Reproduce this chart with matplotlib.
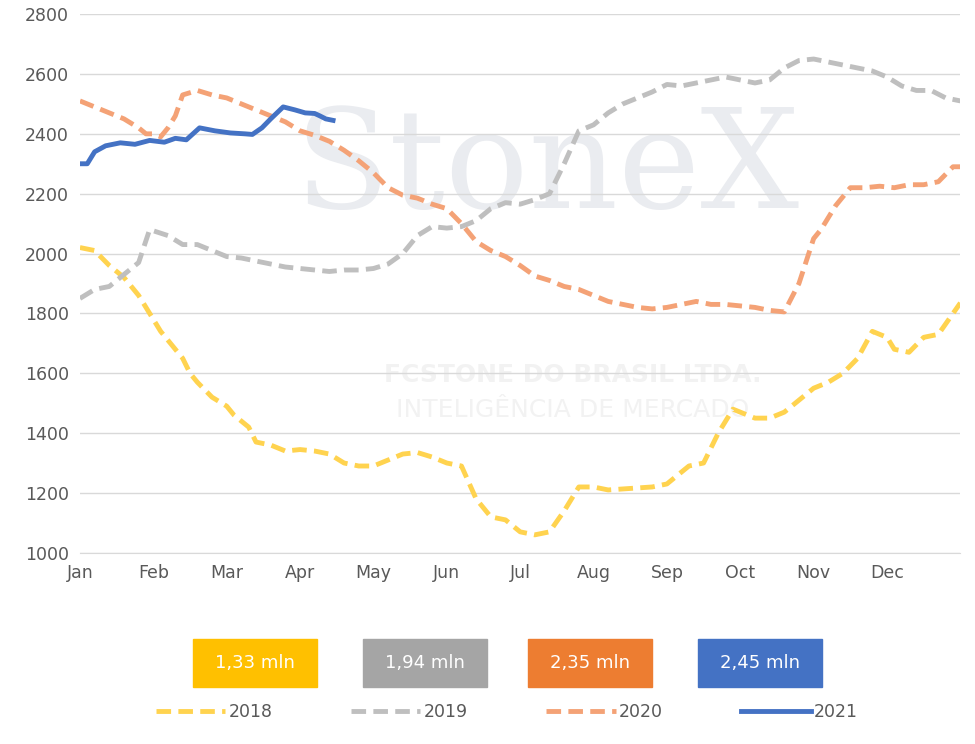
import matplotlib
matplotlib.use("Agg")
import matplotlib.pyplot as plt
from matplotlib.lines import Line2D

months = ["Jan","Feb","Mar","Apr","May","Jun","Jul","Aug","Sep","Oct","Nov","Dec"]

x2018 = [0,0.2,0.4,0.6,0.8,1.0,1.1,1.3,1.4,1.5,1.6,1.8,2.0,2.1,2.3,2.4,2.6,2.8,3.0,3.2,3.4,3.6,3.8,4.0,4.2,4.4,4.6,4.8,5.0,5.2,5.4,5.6,5.8,6.0,6.2,6.4,6.6,6.8,7.0,7.2,7.5,7.8,8.0,8.1,8.3,8.5,8.7,8.9,9.0,9.2,9.4,9.6,9.8,10.0,10.2,10.4,10.6,10.8,11.0,11.1,11.3,11.5,11.7,11.9,12.0]
y2018 = [2020,2010,1960,1920,1860,1780,1740,1680,1650,1600,1570,1520,1490,1460,1420,1370,1360,1340,1345,1340,1330,1300,1290,1290,1310,1330,1335,1320,1300,1290,1180,1120,1110,1070,1060,1070,1140,1220,1220,1210,1215,1220,1230,1250,1290,1300,1400,1480,1470,1450,1450,1470,1510,1550,1570,1600,1650,1740,1720,1680,1670,1720,1730,1800,1835]

x2019 = [0,0.2,0.4,0.6,0.8,0.95,1.2,1.4,1.6,1.8,2.0,2.2,2.4,2.6,2.8,3.0,3.2,3.4,3.6,3.8,4.0,4.2,4.4,4.6,4.8,5.0,5.2,5.4,5.6,5.8,6.0,6.2,6.4,6.6,6.8,7.0,7.2,7.4,7.6,7.8,8.0,8.2,8.4,8.6,8.8,9.0,9.2,9.4,9.6,9.8,10.0,10.2,10.4,10.6,10.8,11.0,11.2,11.4,11.6,11.8,12.0]
y2019 = [1850,1880,1890,1930,1970,2080,2060,2030,2030,2010,1990,1985,1975,1965,1955,1950,1945,1940,1945,1945,1950,1965,2000,2060,2090,2085,2090,2110,2150,2170,2165,2180,2200,2300,2410,2430,2470,2500,2520,2540,2565,2560,2570,2580,2590,2580,2570,2580,2620,2645,2650,2640,2630,2620,2610,2590,2560,2545,2545,2520,2510]

x2020 = [0,0.2,0.4,0.6,0.8,0.9,1.0,1.1,1.2,1.3,1.4,1.6,1.8,2.0,2.2,2.4,2.6,2.8,3.0,3.2,3.4,3.6,3.8,4.0,4.2,4.4,4.6,4.8,5.0,5.2,5.4,5.6,5.8,6.0,6.2,6.4,6.6,6.8,7.0,7.2,7.4,7.6,7.8,8.0,8.2,8.4,8.6,8.8,9.0,9.2,9.4,9.6,9.8,10.0,10.1,10.3,10.5,10.7,10.9,11.1,11.3,11.5,11.7,11.9,12.0]
y2020 = [2510,2490,2470,2450,2420,2400,2400,2390,2420,2460,2530,2545,2530,2520,2500,2480,2460,2440,2410,2395,2375,2345,2310,2270,2220,2195,2185,2165,2150,2100,2040,2010,1990,1960,1925,1910,1890,1880,1860,1840,1830,1820,1815,1820,1830,1840,1830,1830,1825,1820,1810,1805,1900,2050,2080,2160,2220,2220,2225,2220,2230,2230,2240,2290,2290]

x2021 = [0,0.1,0.2,0.35,0.55,0.75,0.95,1.15,1.3,1.45,1.63,1.84,2.05,2.25,2.35,2.48,2.6,2.77,2.93,3.07,3.2,3.27,3.35,3.45]
y2021 = [2300,2300,2340,2360,2370,2365,2378,2372,2385,2380,2420,2410,2403,2400,2398,2420,2450,2490,2480,2470,2468,2460,2450,2445]

box_labels = ["1,33 mln","1,94 mln","2,35 mln","2,45 mln"]
box_colors = ["#FFC000","#A5A5A5","#ED7D31","#4472C4"]
series_labels = ["2018","2019","2020","2021"]
line_colors = ["#FFD34F","#BFBFBF","#F4A276","#4472C4"]

fig = plt.figure(figsize=(9.75,7.44), dpi=100)
ax = fig.add_axes([0.082,0.257,0.903,0.724])

# watermark
ax.text(0.53,0.71,"StoneX",transform=ax.transAxes,fontsize=100,family="DejaVu Serif",color="#EAECF0",ha="center",va="center",zorder=0)
ax.text(0.56,0.33,"FCSTONE DO BRASIL LTDA.",transform=ax.transAxes,fontsize=18,weight="bold",color="#F2F2F2",ha="center",va="center",zorder=0)
ax.text(0.56,0.265,"INTELIGÊNCIA DE MERCADO",transform=ax.transAxes,fontsize=18,color="#F2F2F2",ha="center",va="center",zorder=0)

ax.plot(x2018,y2018,color=line_colors[0],lw=3.5,ls=(0,(3,1.5)))
ax.plot(x2019,y2019,color=line_colors[1],lw=3.5,ls=(0,(3,1.5)))
ax.plot(x2020,y2020,color=line_colors[2],lw=3.5,ls=(0,(3,1.5)))
ax.plot(x2021,y2021,color=line_colors[3],lw=3.5)

ax.set_xlim(0,12)
ax.set_ylim(1000,2800)
ax.set_yticks(range(1000,2801,200))
ax.set_xticks(range(12))
ax.set_xticklabels(months)
ax.tick_params(length=0,labelsize=12.5,colors="#595959",pad=8)
ax.grid(axis="y",color="#D9D9D9",lw=1)
for s in ["top","right","left"]:
    ax.spines[s].set_visible(False)
ax.spines["bottom"].set_color("#D9D9D9")
ax.set_axisbelow(True)

for xc,lab,c in zip([255,425,590,760],box_labels,box_colors):
    fig.patches.append(plt.Rectangle(((xc-62)/975,(744-687)/744),124/975,48/744,transform=fig.transFigure,color=c))
    fig.text(xc/975,(744-663)/744,lab,color="white",fontsize=13,ha="center",va="center")

handles=[Line2D([],[],color=line_colors[i],lw=3.5,ls=(0,(3,1.5)) if i<3 else "-") for i in range(4)]
fig.legend(handles,series_labels,loc="center",bbox_to_anchor=(0.52,(744-712)/744),ncol=4,frameon=False,fontsize=12.5,handlelength=4,handletextpad=0.2,columnspacing=4.5,labelcolor="#595959")

fig.savefig("out.png",dpi=100)
